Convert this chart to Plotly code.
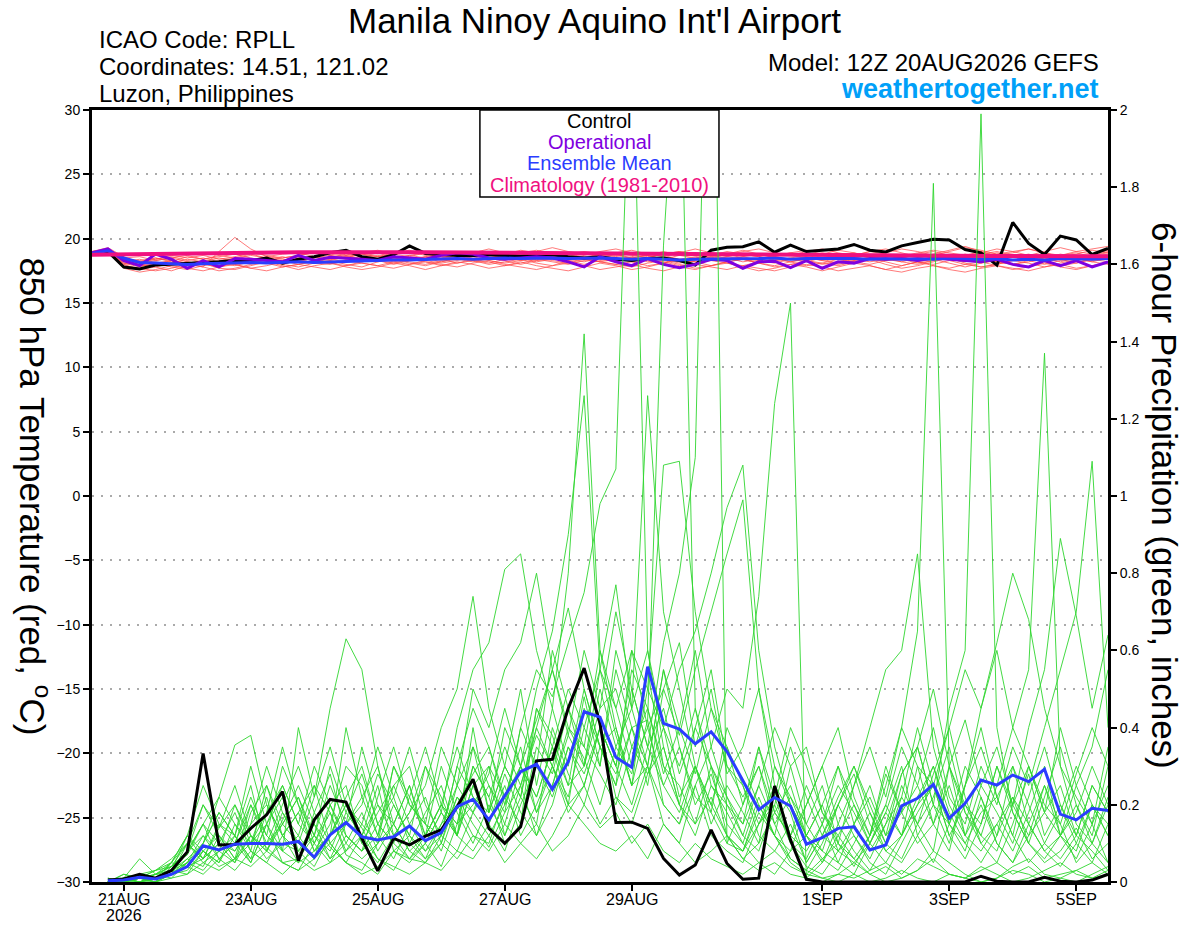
import pandas as pd
import plotly.graph_objects as go

# ---------------- data ----------------
RUN_START = "2026-08-20 12:00"          # first temperature valid time
N_STEPS = 65                             # 6-hourly, 20AUG 12Z .. 5SEP 12Z

TICK_DATES = ["2026-08-21", "2026-08-23", "2026-08-25", "2026-08-27", "2026-08-29",
              "2026-09-01", "2026-09-03", "2026-09-05"]
TICK_LABELS = ["21AUG", "23AUG", "25AUG", "27AUG", "29AUG", "1SEP", "3SEP", "5SEP"]
YEAR_LABEL = "2026"

# 850 hPa temperature (deg C), 65 values from 20AUG 12Z
T_CONTROL = [18.8, 19.0, 17.8, 17.65, 17.95, 18.0, 18.1, 18.1, 18.2, 18.3,
             18.3, 18.5, 18.1, 18.4, 18.6, 18.9, 19.1, 18.6, 18.4, 18.75,
             19.44, 18.85, 18.75, 18.7, 18.7, 18.75, 18.7, 18.65, 18.7, 18.75,
             18.6, 18.5, 18.6, 18.4, 18.3, 18.45, 18.5, 18.3, 17.95, 19.1,
             19.34, 19.37, 19.75, 18.95, 19.5, 19.0, 19.1, 19.2, 19.55, 19.1,
             18.97, 19.44, 19.7, 19.96, 19.9, 19.16, 18.9, 17.94, 21.26, 19.63,
             18.77, 20.2, 19.9, 18.77, 19.24]
T_OPER = [18.9, 19.2, 18.3, 17.9, 18.8, 18.4, 17.7, 18.3, 17.8, 18.45,
          18.4, 18.3, 18.2, 18.7, 18.3, 18.55, 18.5, 18.4, 18.3, 18.6,
          18.5, 18.4, 18.7, 18.9, 18.8, 18.5, 18.4, 18.5, 18.6, 18.5,
          18.2, 17.8, 18.6, 18.2, 17.9, 18.45, 18.0, 17.75, 18.0, 18.4,
          18.3, 17.7, 18.2, 18.25, 17.75, 18.3, 17.7, 18.2, 18.1, 18.45,
          18.4, 18.45, 18.3, 18.5, 18.4, 18.3, 18.2, 18.4, 18.0, 17.8,
          18.3, 17.9, 18.3, 17.8, 18.2]
T_MEAN = [18.85, 19.05, 18.5, 18.15, 18.1, 18.05, 18.0, 18.05, 18.1, 18.1,
          18.15, 18.1, 18.15, 18.2, 18.15, 18.2, 18.25, 18.3, 18.3, 18.35,
          18.35, 18.4, 18.4, 18.45, 18.4, 18.45, 18.5, 18.45, 18.5, 18.5,
          18.45, 18.5, 18.5, 18.45, 18.4, 18.45, 18.4, 18.35, 18.4, 18.4,
          18.45, 18.4, 18.45, 18.5, 18.4, 18.45, 18.45, 18.5, 18.45, 18.4,
          18.45, 18.4, 18.45, 18.4, 18.5, 18.45, 18.4, 18.45, 18.35, 18.4,
          18.35, 18.45, 18.4, 18.4, 18.45]
T_CLIMO = [18.75, 18.77, 18.79, 18.81, 18.83, 18.85, 18.87, 18.88, 18.9, 18.91,
           18.92, 18.93, 18.94, 18.95, 18.95, 18.96, 18.96, 18.96, 18.95, 18.95,
           18.94, 18.94, 18.93, 18.92, 18.91, 18.9, 18.89, 18.88, 18.87, 18.86,
           18.85, 18.84, 18.83, 18.82, 18.81, 18.8, 18.79, 18.78, 18.77, 18.76,
           18.75, 18.75, 18.74, 18.73, 18.73, 18.72, 18.72, 18.71, 18.71, 18.7,
           18.7, 18.69, 18.69, 18.68, 18.68, 18.67, 18.67, 18.66, 18.66, 18.65,
           18.65, 18.65, 18.64, 18.64, 18.64]

T_MEMBERS = [
    [18.9, 19.1, 18.2, 17.9, 18.0, 18.3, 18.1, 17.8, 19.0, 20.1, 19.2, 18.6, 18.4, 18.2, 18.5, 18.7, 18.4, 18.6, 18.9, 18.5, 18.3, 18.6, 18.8, 18.5, 18.4, 18.7, 18.9, 18.6, 18.3, 18.5, 18.8, 18.6, 18.4, 18.2, 18.5, 18.7, 18.4, 18.1, 18.3, 18.6, 18.8, 18.5, 18.3, 18.6, 18.4, 18.2, 18.5, 18.7, 18.9, 18.6, 18.3, 18.5, 18.8, 18.6, 18.4, 18.7, 19.0, 18.6, 18.3, 18.5, 18.8, 18.6, 18.4, 18.7, 19.0],
    [18.8, 19.0, 18.0, 17.6, 17.8, 17.5, 17.9, 18.1, 17.7, 17.6, 17.9, 18.2, 18.0, 17.8, 18.1, 18.3, 18.0, 17.8, 18.2, 18.4, 18.1, 17.9, 18.2, 18.5, 18.3, 18.0, 18.2, 18.4, 18.1, 17.9, 18.3, 18.5, 18.2, 18.0, 17.8, 18.1, 18.3, 18.0, 17.7, 17.9, 18.2, 18.4, 18.1, 17.8, 18.0, 18.3, 18.1, 17.9, 18.2, 18.4, 18.0, 17.7, 17.9, 18.2, 18.5, 18.1, 17.8, 18.0, 18.3, 18.1, 17.8, 18.1, 18.4, 18.2, 18.5],
    [18.9, 19.2, 18.4, 18.3, 18.5, 18.2, 18.6, 18.4, 18.7, 18.5, 18.3, 18.6, 18.8, 18.9, 18.6, 18.4, 18.7, 18.9, 19.1, 18.8, 18.6, 18.9, 19.0, 18.7, 18.9, 19.2, 18.9, 18.7, 19.0, 19.3, 19.0, 18.8, 18.6, 18.9, 19.1, 18.8, 18.6, 18.9, 19.2, 18.9, 18.7, 19.0, 19.2, 18.9, 18.7, 18.5, 18.8, 19.1, 18.9, 18.6, 18.9, 19.2, 19.0, 18.7, 19.0, 19.3, 19.1, 18.8, 19.0, 19.2, 18.9, 18.7, 19.0, 19.2, 19.4],
    [18.7, 19.0, 17.7, 17.4, 17.6, 17.9, 17.7, 17.5, 17.8, 18.0, 17.7, 17.5, 17.8, 18.0, 17.8, 17.6, 17.9, 18.1, 17.9, 17.7, 18.0, 18.2, 18.0, 17.8, 18.1, 18.3, 18.0, 17.8, 17.6, 17.9, 18.1, 17.9, 17.6, 17.8, 18.0, 17.7, 17.5, 17.8, 18.0, 17.8, 17.6, 17.9, 17.7, 17.5, 17.8, 18.0, 17.8, 17.5, 17.7, 17.9, 17.6, 17.4, 17.7, 17.9, 17.6, 17.4, 17.7, 17.9, 17.7, 17.5, 17.8, 18.0, 17.7, 17.9, 18.1],
    [19.0, 19.3, 18.6, 18.1, 18.4, 18.6, 18.3, 18.5, 18.2, 18.4, 18.7, 18.5, 18.2, 18.4, 18.6, 18.9, 18.7, 18.4, 18.6, 18.8, 19.0, 18.7, 18.5, 18.8, 19.0, 18.8, 18.5, 18.7, 18.9, 18.6, 18.4, 18.7, 19.0, 19.2, 18.9, 18.6, 18.8, 19.0, 18.7, 18.5, 18.8, 19.1, 18.8, 18.6, 18.9, 19.1, 18.8, 18.5, 18.7, 19.0, 19.2, 18.9, 18.6, 18.8, 19.1, 19.4, 19.0, 18.7, 18.9, 19.2, 18.9, 18.6, 18.8, 19.1, 18.9],
    [18.8, 19.1, 18.1, 17.8, 18.1, 17.8, 17.6, 17.9, 18.2, 18.0, 17.7, 17.9, 18.2, 18.4, 18.1, 18.0, 18.3, 18.1, 17.9, 18.2, 18.4, 18.2, 17.9, 18.1, 18.4, 18.2, 17.9, 18.1, 18.4, 18.6, 18.3, 18.0, 18.3, 18.5, 18.2, 17.9, 18.1, 18.4, 18.2, 17.9, 18.2, 18.4, 18.1, 17.9, 18.2, 18.5, 18.3, 18.0, 18.3, 18.5, 18.2, 17.9, 18.2, 18.4, 18.1, 17.8, 18.1, 18.4, 18.6, 18.3, 18.0, 18.3, 18.5, 18.2, 18.0],
    [18.9, 19.0, 18.3, 18.0, 17.8, 18.1, 18.4, 18.2, 17.9, 18.2, 18.4, 18.1, 18.3, 18.6, 18.4, 18.1, 18.3, 18.5, 18.3, 18.0, 18.3, 18.5, 18.7, 18.4, 18.2, 18.5, 18.7, 18.5, 18.2, 18.4, 18.6, 18.9, 18.6, 18.3, 18.5, 18.7, 18.4, 18.2, 18.5, 18.7, 18.5, 18.2, 18.4, 18.7, 18.9, 18.6, 18.3, 18.6, 18.8, 18.5, 18.3, 18.6, 18.8, 19.0, 18.7, 18.4, 18.6, 18.9, 18.6, 18.3, 18.5, 18.8, 18.6, 18.4, 18.7],
    [18.8, 19.2, 18.5, 18.6, 18.3, 18.5, 18.7, 18.4, 18.6, 18.8, 18.5, 18.3, 18.5, 18.7, 18.9, 18.7, 18.5, 18.8, 18.6, 18.4, 18.7, 18.9, 18.6, 18.4, 18.6, 18.8, 18.6, 18.9, 19.1, 18.8, 18.6, 18.4, 18.7, 18.9, 18.7, 18.5, 18.8, 19.0, 18.8, 18.5, 18.3, 18.6, 18.8, 18.5, 18.2, 18.4, 18.7, 18.5, 18.2, 18.4, 18.7, 18.4, 18.1, 18.3, 18.6, 18.4, 18.1, 18.3, 18.6, 18.8, 18.5, 18.2, 18.5, 18.7, 18.9],
    [18.7, 18.9, 17.9, 17.7, 17.5, 17.7, 18.0, 17.8, 17.5, 17.7, 18.0, 18.2, 17.9, 17.6, 17.9, 18.1, 17.8, 17.6, 17.8, 18.1, 17.9, 17.6, 17.9, 18.2, 18.0, 17.7, 17.9, 18.2, 17.9, 17.7, 17.5, 17.8, 18.1, 17.9, 17.6, 17.8, 18.1, 17.8, 17.6, 17.9, 18.1, 17.8, 17.5, 17.7, 18.0, 17.8, 17.5, 17.8, 18.1, 17.9, 17.6, 17.9, 18.2, 17.9, 17.7, 18.0, 18.2, 17.9, 17.6, 17.8, 18.1, 17.8, 17.6, 17.9, 18.2],
    [19.0, 19.2, 18.2, 18.4, 18.1, 18.3, 18.0, 18.2, 18.5, 18.3, 18.1, 18.4, 18.6, 18.3, 18.1, 18.3, 18.6, 18.4, 18.2, 18.5, 18.7, 18.5, 18.2, 18.4, 18.7, 18.9, 18.6, 18.3, 18.5, 18.7, 18.4, 18.2, 18.5, 18.7, 18.5, 18.2, 18.4, 18.7, 18.9, 18.6, 18.4, 18.6, 18.3, 18.1, 18.4, 18.6, 18.4, 18.1, 18.3, 18.6, 18.4, 18.2, 18.5, 18.7, 18.4, 18.2, 18.5, 18.2, 18.0, 18.3, 18.6, 18.4, 18.1, 18.4, 18.6],
    [18.8, 19.1, 18.4, 18.0, 18.3, 18.5, 18.2, 18.0, 18.3, 18.5, 18.8, 18.5, 18.3, 18.0, 18.2, 18.4, 18.2, 18.5, 18.7, 18.4, 18.2, 18.0, 18.3, 18.5, 18.3, 18.1, 18.4, 18.6, 18.4, 18.2, 18.0, 18.3, 18.5, 18.8, 18.5, 18.3, 18.1, 18.4, 18.6, 18.9, 18.6, 18.4, 18.1, 18.3, 18.5, 18.3, 18.0, 18.2, 18.5, 18.7, 18.5, 18.2, 18.0, 18.3, 18.5, 18.8, 18.5, 18.2, 18.0, 18.2, 18.5, 18.7, 18.9, 18.6, 18.8],
    [18.9, 19.1, 18.0, 18.2, 18.5, 18.3, 18.1, 18.3, 18.1, 17.9, 18.2, 18.4, 18.2, 18.5, 18.3, 18.5, 18.8, 18.6, 18.3, 18.1, 18.4, 18.6, 18.4, 18.1, 18.3, 18.5, 18.3, 18.0, 18.3, 18.5, 18.7, 18.4, 18.2, 18.4, 18.6, 18.9, 18.7, 18.4, 18.2, 18.4, 18.6, 18.8, 18.6, 18.3, 18.5, 18.7, 18.9, 18.7, 18.4, 18.2, 18.4, 18.6, 18.3, 18.5, 18.7, 18.5, 18.8, 19.0, 18.7, 18.4, 18.2, 18.4, 18.6, 18.3, 18.5],
    [18.8, 19.0, 18.1, 17.9, 18.2, 18.0, 18.2, 18.0, 17.8, 18.1, 18.3, 18.1, 17.8, 18.0, 18.3, 18.1, 17.9, 18.2, 18.4, 18.2, 18.0, 18.3, 18.1, 18.3, 18.6, 18.3, 18.1, 18.3, 18.5, 18.3, 18.1, 18.4, 18.2, 18.0, 18.2, 18.4, 18.2, 17.9, 18.1, 18.3, 18.1, 17.9, 18.2, 18.4, 18.2, 17.9, 18.1, 18.4, 18.2, 18.0, 18.3, 18.5, 18.2, 18.0, 18.3, 18.0, 17.8, 18.0, 18.3, 18.5, 18.2, 17.9, 18.1, 18.4, 18.2],
    [19.0, 19.2, 18.5, 18.2, 18.4, 18.7, 18.5, 18.7, 18.4, 18.6, 18.9, 18.7, 18.5, 18.7, 19.0, 18.8, 18.6, 18.8, 18.6, 18.9, 19.1, 18.8, 18.6, 18.9, 18.7, 18.5, 18.8, 19.1, 18.9, 18.6, 18.8, 19.0, 18.8, 18.6, 18.9, 18.7, 19.0, 18.7, 18.5, 18.7, 19.0, 18.8, 18.6, 18.9, 18.7, 19.0, 19.2, 18.9, 18.7, 19.0, 18.8, 18.6, 18.9, 19.1, 18.9, 18.7, 18.9, 19.2, 19.0, 18.7, 19.0, 19.3, 19.0, 18.8, 19.1],
]

# 6-hour precipitation (inches), 64 values from 20AUG 18Z
P_CONTROL = [0.005, 0.008, 0.02, 0.01, 0.03, 0.078, 0.333, 0.096, 0.097, 0.139,
             0.174, 0.234, 0.055, 0.161, 0.214, 0.207, 0.113, 0.029, 0.113, 0.096,
             0.119, 0.135, 0.195, 0.266, 0.139, 0.10, 0.143, 0.314, 0.318, 0.45,
             0.554, 0.411, 0.154, 0.155, 0.139, 0.061, 0.018, 0.044, 0.135, 0.048,
             0.007, 0.01, 0.249, 0.109, 0.007, 0.0, 0.0, 0.0, 0.0, 0.0,
             0.0, 0.0, 0.0, 0.0, 0.0, 0.015, 0.002, 0.0, 0.0, 0.012,
             0.002, 0.0, 0.005, 0.02]
P_MEAN = [0.003, 0.005, 0.012, 0.008, 0.02, 0.04, 0.094, 0.083, 0.098, 0.10,
          0.10, 0.098, 0.105, 0.064, 0.122, 0.154, 0.117, 0.109, 0.117, 0.145,
          0.107, 0.128, 0.195, 0.214, 0.161, 0.225, 0.286, 0.305, 0.24, 0.312,
          0.441, 0.427, 0.323, 0.297, 0.558, 0.411, 0.396, 0.358, 0.389, 0.338,
          0.264, 0.187, 0.219, 0.197, 0.098, 0.115, 0.139, 0.143, 0.083, 0.096,
          0.197, 0.217, 0.253, 0.165, 0.204, 0.264, 0.251, 0.277, 0.26, 0.292,
          0.176, 0.161, 0.191, 0.185]

P_MEMBERS = [
    [0.00, 0.01, 0.00, 0.01, 0.02, 0.05, 0.08, 0.04, 0.06, 0.12, 0.09, 0.05, 0.03, 0.10, 0.18, 0.07, 0.05, 0.02, 0.08, 0.12, 0.06, 0.10, 0.22, 0.15, 0.09, 0.18, 0.25, 0.12, 0.20, 0.35, 0.28, 0.40, 0.22, 0.18, 0.30, 0.15, 0.10, 0.25, 0.12, 0.08, 0.05, 0.15, 0.22, 0.10, 0.04, 0.02, 0.08, 0.12, 0.06, 0.15, 0.28, 0.35, 0.20, 0.45, 0.60, 1.99, 0.40, 0.18, 0.10, 0.06, 0.12, 0.08, 0.20, 0.15],
    [0.00, 0.00, 0.02, 0.01, 0.03, 0.08, 0.12, 0.06, 0.10, 0.05, 0.15, 0.22, 0.08, 0.04, 0.12, 0.20, 0.14, 0.06, 0.03, 0.10, 0.18, 0.25, 0.12, 0.30, 0.22, 0.10, 0.15, 0.35, 0.28, 0.45, 0.30, 0.55, 0.38, 0.25, 0.42, 0.20, 0.15, 0.30, 0.18, 0.10, 0.08, 0.20, 0.12, 0.05, 0.02, 0.06, 0.10, 0.04, 0.12, 0.25, 0.40, 0.65, 1.81, 0.30, 0.12, 0.08, 0.15, 0.22, 0.10, 0.05, 0.08, 0.14, 0.06, 0.10],
    [0.01, 0.00, 0.01, 0.03, 0.05, 0.10, 0.06, 0.14, 0.20, 0.12, 0.08, 0.16, 0.25, 0.15, 0.09, 0.05, 0.12, 0.20, 0.15, 0.08, 0.05, 0.12, 0.30, 0.45, 0.35, 0.20, 0.40, 0.55, 0.48, 0.62, 0.75, 0.98, 1.07, 2.30, 0.60, 0.35, 0.20, 0.12, 0.25, 0.18, 0.10, 0.05, 0.02, 0.08, 0.12, 0.06, 0.03, 0.10, 0.18, 0.08, 0.05, 0.12, 0.20, 0.15, 0.30, 0.22, 0.10, 0.05, 0.12, 0.18, 0.25, 0.12, 0.08, 0.03],
    [0.00, 0.02, 0.01, 0.00, 0.04, 0.07, 0.15, 0.10, 0.05, 0.18, 0.25, 0.12, 0.08, 0.12, 0.06, 0.15, 0.22, 0.30, 0.12, 0.06, 0.10, 0.04, 0.15, 0.20, 0.28, 0.45, 0.30, 0.22, 0.35, 0.25, 0.48, 0.30, 0.55, 0.40, 0.42, 1.65, 2.30, 0.45, 0.30, 0.20, 0.12, 0.25, 0.15, 0.06, 0.03, 0.10, 0.20, 0.12, 0.05, 0.02, 0.10, 0.18, 0.25, 0.12, 0.06, 0.15, 0.30, 0.20, 0.12, 0.25, 0.15, 0.05, 0.10, 0.22],
    [0.00, 0.01, 0.00, 0.02, 0.03, 0.12, 0.08, 0.05, 0.15, 0.10, 0.22, 0.08, 0.05, 0.18, 0.28, 0.12, 0.08, 0.15, 0.22, 0.35, 0.20, 0.12, 0.08, 0.18, 0.25, 0.15, 0.30, 0.42, 0.55, 0.38, 0.60, 0.45, 0.70, 0.50, 0.35, 0.62, 0.80, 1.10, 2.80, 0.10, 0.20, 0.35, 0.18, 0.12, 0.08, 0.15, 0.05, 0.02, 0.10, 0.20, 0.12, 0.30, 0.15, 0.08, 0.25, 0.40, 0.22, 0.12, 0.05, 0.10, 0.18, 0.30, 0.20, 0.12],
    [0.00, 0.00, 0.01, 0.01, 0.02, 0.06, 0.10, 0.18, 0.12, 0.30, 0.15, 0.08, 0.12, 0.06, 0.20, 0.25, 0.10, 0.05, 0.12, 0.18, 0.30, 0.22, 0.12, 0.40, 0.18, 0.30, 0.50, 0.25, 0.45, 0.80, 1.42, 0.60, 0.40, 0.25, 0.55, 0.30, 0.20, 0.15, 0.30, 0.12, 0.06, 0.10, 0.18, 0.25, 0.12, 0.05, 0.15, 0.08, 0.03, 0.10, 0.22, 0.15, 0.08, 0.30, 0.18, 0.10, 0.05, 0.15, 0.28, 0.12, 0.20, 0.10, 0.05, 0.15],
    [0.00, 0.01, 0.02, 0.01, 0.05, 0.04, 0.10, 0.22, 0.15, 0.08, 0.05, 0.12, 0.18, 0.25, 0.10, 0.05, 0.03, 0.10, 0.20, 0.12, 0.08, 0.15, 0.25, 0.18, 0.30, 0.22, 0.15, 0.45, 0.35, 0.50, 0.40, 0.30, 0.60, 0.45, 1.26, 0.70, 0.50, 0.30, 0.20, 0.35, 0.25, 0.12, 0.08, 0.15, 0.05, 0.12, 0.22, 0.30, 0.20, 0.10, 0.06, 0.15, 0.28, 0.40, 0.22, 0.10, 0.15, 0.08, 0.18, 0.30, 0.12, 0.25, 0.15, 0.05],
    [0.00, 0.00, 0.00, 0.02, 0.01, 0.05, 0.12, 0.08, 0.20, 0.10, 0.15, 0.05, 0.06, 0.12, 0.30, 0.18, 0.12, 0.25, 0.08, 0.05, 0.10, 0.18, 0.12, 0.25, 0.15, 0.08, 0.20, 0.30, 0.22, 0.35, 0.25, 0.40, 0.30, 0.55, 0.45, 0.28, 0.40, 0.60, 0.35, 0.50, 0.45, 0.74, 1.24, 1.50, 0.01, 0.05, 0.12, 0.20, 0.10, 0.18, 0.30, 0.12, 0.05, 0.15, 0.08, 0.22, 0.12, 0.30, 0.20, 0.10, 0.06, 0.12, 0.25, 0.18],
    [0.01, 0.00, 0.01, 0.00, 0.02, 0.04, 0.06, 0.10, 0.08, 0.15, 0.20, 0.12, 0.05, 0.08, 0.12, 0.22, 0.30, 0.15, 0.10, 0.06, 0.12, 0.20, 0.35, 0.22, 0.15, 0.28, 0.18, 0.12, 0.25, 0.40, 0.32, 0.20, 0.35, 0.28, 0.50, 0.40, 0.22, 0.30, 0.15, 0.25, 0.18, 0.10, 0.30, 0.20, 0.12, 0.08, 0.05, 0.15, 0.22, 0.12, 0.28, 0.35, 0.20, 0.10, 0.25, 0.45, 0.60, 0.40, 0.55, 1.37, 0.30, 0.15, 0.10, 0.20],
    [0.00, 0.01, 0.00, 0.01, 0.03, 0.02, 0.08, 0.12, 0.06, 0.20, 0.10, 0.15, 0.22, 0.10, 0.05, 0.12, 0.08, 0.12, 0.30, 0.20, 0.15, 0.08, 0.20, 0.12, 0.10, 0.22, 0.35, 0.18, 0.30, 0.20, 0.45, 0.35, 0.25, 0.40, 0.30, 0.55, 0.35, 0.20, 0.28, 0.15, 0.10, 0.22, 0.12, 0.30, 0.15, 0.25, 0.10, 0.06, 0.12, 0.30, 0.18, 0.25, 0.40, 0.22, 0.15, 0.30, 0.20, 0.35, 0.25, 0.40, 0.55, 0.70, 1.09, 0.40],
    [0.00, 0.00, 0.02, 0.03, 0.06, 0.10, 0.05, 0.08, 0.12, 0.06, 0.18, 0.25, 0.15, 0.30, 0.20, 0.10, 0.06, 0.10, 0.15, 0.25, 0.12, 0.30, 0.18, 0.10, 0.20, 0.12, 0.25, 0.38, 0.30, 0.22, 0.40, 0.55, 0.45, 0.60, 0.50, 1.08, 1.09, 0.70, 0.45, 0.30, 0.25, 0.15, 0.20, 0.10, 0.06, 0.15, 0.25, 0.18, 0.10, 0.05, 0.12, 0.20, 0.30, 0.18, 0.10, 0.05, 0.12, 0.22, 0.15, 0.08, 0.04, 0.10, 0.20, 0.12],
    [0.00, 0.01, 0.01, 0.02, 0.04, 0.08, 0.15, 0.06, 0.10, 0.22, 0.12, 0.30, 0.20, 0.08, 0.15, 0.30, 0.25, 0.12, 0.06, 0.15, 0.22, 0.10, 0.25, 0.35, 0.18, 0.30, 0.22, 0.45, 0.38, 0.25, 0.30, 0.50, 0.35, 0.45, 0.60, 0.40, 0.55, 0.65, 0.80, 0.97, 1.08, 0.60, 0.35, 0.20, 0.12, 0.20, 0.30, 0.15, 0.08, 0.15, 0.22, 0.40, 0.25, 0.12, 0.20, 0.15, 0.30, 0.18, 0.10, 0.22, 0.35, 0.20, 0.12, 0.30],
    [0.00, 0.00, 0.01, 0.01, 0.02, 0.10, 0.20, 0.14, 0.25, 0.12, 0.08, 0.18, 0.10, 0.22, 0.35, 0.20, 0.15, 0.28, 0.20, 0.12, 0.30, 0.18, 0.40, 0.55, 0.62, 0.81, 0.85, 0.60, 0.45, 0.30, 0.50, 0.35, 0.28, 0.40, 0.25, 0.50, 0.38, 0.55, 0.70, 0.85, 0.99, 0.50, 0.30, 0.22, 0.15, 0.08, 0.20, 0.30, 0.18, 0.10, 0.25, 0.15, 0.22, 0.35, 0.18, 0.12, 0.08, 0.20, 0.30, 0.18, 0.12, 0.06, 0.15, 0.25],
    [0.00, 0.02, 0.01, 0.00, 0.05, 0.12, 0.06, 0.10, 0.18, 0.08, 0.25, 0.15, 0.10, 0.06, 0.12, 0.40, 0.22, 0.12, 0.25, 0.30, 0.15, 0.35, 0.25, 0.50, 0.40, 0.55, 0.62, 0.80, 0.55, 0.40, 0.35, 0.60, 0.45, 0.30, 0.40, 0.25, 0.35, 0.22, 0.18, 0.40, 0.30, 0.20, 0.12, 0.08, 0.20, 0.30, 0.15, 0.25, 0.40, 0.55, 0.60, 0.85, 0.35, 0.20, 0.12, 0.25, 0.18, 0.10, 0.22, 0.35, 0.20, 0.12, 0.25, 0.18],
    [0.00, 0.00, 0.00, 0.01, 0.02, 0.03, 0.08, 0.05, 0.12, 0.06, 0.10, 0.20, 0.30, 0.18, 0.10, 0.15, 0.20, 0.35, 0.22, 0.10, 0.06, 0.15, 0.20, 0.28, 0.35, 0.22, 0.30, 0.18, 0.25, 0.38, 0.30, 0.45, 0.50, 0.35, 0.28, 0.40, 0.30, 0.45, 0.25, 0.20, 0.15, 0.35, 0.22, 0.40, 0.30, 0.18, 0.10, 0.25, 0.35, 0.22, 0.40, 0.30, 0.25, 0.40, 0.55, 0.45, 0.62, 0.80, 0.68, 0.45, 0.30, 0.22, 0.15, 0.35],
    [0.00, 0.01, 0.02, 0.01, 0.03, 0.06, 0.04, 0.12, 0.08, 0.15, 0.30, 0.18, 0.12, 0.25, 0.18, 0.08, 0.15, 0.10, 0.30, 0.22, 0.12, 0.20, 0.15, 0.35, 0.25, 0.18, 0.40, 0.30, 0.60, 0.45, 0.55, 0.40, 0.30, 0.50, 0.35, 0.45, 0.28, 0.40, 0.55, 0.30, 0.22, 0.30, 0.18, 0.12, 0.25, 0.15, 0.30, 0.20, 0.12, 0.28, 0.18, 0.35, 0.50, 0.30, 0.42, 0.25, 0.35, 0.20, 0.40, 0.55, 0.89, 0.69, 0.45, 0.64],
    [0.00, 0.00, 0.01, 0.02, 0.04, 0.08, 0.20, 0.12, 0.06, 0.10, 0.18, 0.35, 0.20, 0.12, 0.25, 0.15, 0.35, 0.20, 0.12, 0.18, 0.25, 0.40, 0.50, 0.74, 0.45, 0.30, 0.22, 0.40, 0.55, 0.71, 0.50, 0.35, 0.40, 0.25, 0.30, 0.20, 0.15, 0.25, 0.35, 0.22, 0.12, 0.08, 0.20, 0.35, 0.22, 0.12, 0.08, 0.05, 0.10, 0.18, 0.12, 0.22, 0.30, 0.15, 0.25, 0.35, 0.22, 0.12, 0.30, 0.20, 0.15, 0.28, 0.40, 0.30],
    [0.00, 0.01, 0.06, 0.02, 0.05, 0.12, 0.25, 0.15, 0.10, 0.20, 0.12, 0.08, 0.40, 0.22, 0.45, 0.63, 0.55, 0.30, 0.15, 0.08, 0.12, 0.20, 0.15, 0.30, 0.22, 0.35, 0.25, 0.40, 0.30, 0.45, 0.35, 0.28, 0.20, 0.35, 0.45, 0.30, 0.25, 0.15, 0.22, 0.12, 0.08, 0.15, 0.25, 0.18, 0.05, 0.12, 0.20, 0.28, 0.15, 0.08, 0.12, 0.20, 0.25, 0.15, 0.10, 0.18, 0.22, 0.30, 0.15, 0.08, 0.12, 0.20, 0.10, 0.05],
    [0.00, 0.00, 0.01, 0.01, 0.02, 0.08, 0.15, 0.22, 0.355, 0.38, 0.20, 0.12, 0.18, 0.08, 0.12, 0.20, 0.10, 0.18, 0.25, 0.15, 0.08, 0.12, 0.22, 0.18, 0.12, 0.20, 0.30, 0.22, 0.35, 0.20, 0.25, 0.40, 0.30, 0.20, 0.35, 0.25, 0.18, 0.30, 0.20, 0.12, 0.08, 0.18, 0.12, 0.06, 0.03, 0.01, 0.02, 0.05, 0.02, 0.00, 0.01, 0.03, 0.06, 0.02, 0.01, 0.04, 0.02, 0.00, 0.01, 0.03, 0.05, 0.02, 0.01, 0.03],
    [0.00, 0.00, 0.00, 0.00, 0.01, 0.02, 0.05, 0.03, 0.06, 0.04, 0.08, 0.05, 0.03, 0.06, 0.10, 0.05, 0.02, 0.04, 0.08, 0.06, 0.05, 0.10, 0.06, 0.12, 0.08, 0.15, 0.10, 0.06, 0.12, 0.20, 0.15, 0.10, 0.08, 0.12, 0.06, 0.15, 0.10, 0.05, 0.08, 0.12, 0.06, 0.03, 0.05, 0.02, 0.01, 0.00, 0.02, 0.01, 0.03, 0.05, 0.02, 0.06, 0.04, 0.02, 0.01, 0.03, 0.05, 0.02, 0.04, 0.01, 0.02, 0.03, 0.01, 0.02],
    [0.00, 0.01, 0.00, 0.00, 0.02, 0.04, 0.02, 0.06, 0.03, 0.08, 0.05, 0.02, 0.06, 0.03, 0.05, 0.08, 0.12, 0.06, 0.04, 0.02, 0.05, 0.03, 0.08, 0.06, 0.12, 0.05, 0.10, 0.15, 0.08, 0.12, 0.20, 0.14, 0.18, 0.10, 0.15, 0.08, 0.05, 0.10, 0.06, 0.04, 0.02, 0.05, 0.08, 0.04, 0.02, 0.01, 0.00, 0.02, 0.00, 0.01, 0.03, 0.01, 0.00, 0.02, 0.01, 0.00, 0.01, 0.03, 0.02, 0.00, 0.01, 0.00, 0.02, 0.04],
    [0.00, 0.01, 0.01, 0.03, 0.04, 0.10, 0.06, 0.15, 0.12, 0.05, 0.15, 0.25, 0.15, 0.10, 0.20, 0.12, 0.08, 0.22, 0.35, 0.20, 0.15, 0.12, 0.30, 0.22, 0.18, 0.40, 0.30, 0.50, 0.65, 0.90, 1.26, 0.55, 0.77, 0.45, 0.30, 0.55, 0.40, 0.28, 0.45, 0.35, 0.20, 0.30, 0.15, 0.22, 0.12, 0.20, 0.08, 0.15, 0.25, 0.12, 0.18, 0.10, 0.15, 0.25, 0.12, 0.20, 0.10, 0.05, 0.15, 0.25, 0.12, 0.18, 0.30, 0.20],
    [0.00, 0.00, 0.02, 0.01, 0.03, 0.05, 0.10, 0.18, 0.12, 0.25, 0.08, 0.15, 0.22, 0.12, 0.08, 0.18, 0.28, 0.15, 0.10, 0.22, 0.35, 0.20, 0.12, 0.25, 0.30, 0.12, 0.22, 0.15, 0.40, 0.28, 0.20, 0.35, 0.25, 0.60, 0.40, 0.50, 0.62, 0.35, 0.50, 0.28, 0.35, 0.50, 0.25, 0.12, 0.20, 0.30, 0.40, 0.22, 0.12, 0.20, 0.35, 0.25, 0.15, 0.30, 0.20, 0.12, 0.25, 0.40, 0.30, 0.18, 0.40, 0.25, 0.35, 0.55],
    [0.00, 0.01, 0.01, 0.00, 0.02, 0.05, 0.03, 0.08, 0.05, 0.12, 0.06, 0.10, 0.08, 0.15, 0.06, 0.10, 0.18, 0.08, 0.15, 0.25, 0.10, 0.18, 0.12, 0.08, 0.15, 0.25, 0.12, 0.20, 0.30, 0.18, 0.25, 0.15, 0.22, 0.15, 0.28, 0.35, 0.20, 0.40, 0.30, 0.22, 0.15, 0.25, 0.40, 0.30, 0.35, 0.18, 0.12, 0.06, 0.02, 0.04, 0.01, 0.03, 0.08, 0.05, 0.02, 0.00, 0.01, 0.04, 0.06, 0.02, 0.01, 0.03, 0.05, 0.02],
]

# ---------------- checks ----------------
for s in [T_CONTROL, T_OPER, T_MEAN, T_CLIMO] + T_MEMBERS:
    assert len(s) == N_STEPS, len(s)
for s in [P_CONTROL, P_MEAN] + P_MEMBERS:
    assert len(s) == N_STEPS - 1, len(s)

times = pd.date_range(RUN_START, periods=N_STEPS, freq="6h")
t_times = list(times)
p_times = list(times[1:])

FONT = "Liberation Sans, Arial, Helvetica, sans-serif"
GREEN = "#2fd62f"
RED = "rgba(255,70,70,0.8)"
PURPLE = "#7f00e0"
BLUE = "#2a3cff"
PINK = "#f0107f"

fig = go.Figure()

for m in P_MEMBERS:
    fig.add_trace(go.Scatter(x=p_times, y=m, yaxis="y2", mode="lines",
                             line=dict(color=GREEN, width=0.9), hoverinfo="skip"))
fig.add_trace(go.Scatter(x=p_times, y=P_CONTROL, yaxis="y2", mode="lines",
                         line=dict(color="black", width=3)))
fig.add_trace(go.Scatter(x=p_times, y=P_MEAN, yaxis="y2", mode="lines",
                         line=dict(color=BLUE, width=3)))

for m in T_MEMBERS:
    fig.add_trace(go.Scatter(x=t_times, y=m, yaxis="y", mode="lines",
                             line=dict(color=RED, width=0.9), hoverinfo="skip"))
fig.add_trace(go.Scatter(x=t_times, y=T_CONTROL, yaxis="y", mode="lines",
                         line=dict(color="black", width=3)))
fig.add_trace(go.Scatter(x=t_times, y=T_OPER, yaxis="y", mode="lines",
                         line=dict(color=PURPLE, width=3)))
fig.add_trace(go.Scatter(x=t_times, y=T_MEAN, yaxis="y", mode="lines",
                         line=dict(color=BLUE, width=3)))
fig.add_trace(go.Scatter(x=t_times, y=T_CLIMO, yaxis="y", mode="lines",
                         line=dict(color=PINK, width=4)))

tick_font = dict(family=FONT, size=14, color="black")

fig.update_layout(
    width=1200, height=927,
    margin=dict(l=92, r=92, t=110, b=45, autoexpand=False),
    paper_bgcolor="white", plot_bgcolor="white",
    showlegend=False,
    font=dict(family=FONT, color="black"),
    xaxis=dict(
        type="date", range=[times[0], times[-1]],
        tickvals=TICK_DATES, showticklabels=False,
        ticks="outside", ticklen=6, tickwidth=2, tickcolor="black",
        showline=True, linewidth=3, linecolor="black", mirror=True,
        showgrid=False, zeroline=False,
    ),
    yaxis=dict(
        range=[-30, 30], dtick=5, tick0=-30,
        ticks="outside", ticklen=6, tickwidth=2, tickcolor="black",
        showline=True, linewidth=3, linecolor="black",
        showgrid=True, gridcolor="#aaaaaa", griddash="2px,7px", gridwidth=1.5,
        zeroline=False, tickfont=tick_font,
    ),
    yaxis2=dict(
        range=[0, 2], dtick=0.2, tick0=0, overlaying="y", side="right",
        ticks="outside", ticklen=6, tickwidth=2, tickcolor="black",
        showline=True, linewidth=3, linecolor="black",
        showgrid=False, zeroline=False, tickfont=tick_font,
    ),
)

# date labels under the x ticks (placed on the x axis by date)
xlab_font = dict(family=FONT, size=16, color="black")
for d, lab in zip(TICK_DATES, TICK_LABELS):
    fig.add_annotation(text=lab, x=d, xref="x", yref="paper", y=-0.0225,
                       xanchor="center", yanchor="middle", showarrow=False, font=xlab_font)
fig.add_annotation(text=YEAR_LABEL, x=TICK_DATES[0], xref="x", yref="paper", y=-0.0430,
                   xanchor="center", yanchor="middle", showarrow=False, font=xlab_font)

# legend box (drawn above the traces)
fig.add_shape(type="rect", xref="paper", yref="paper",
              x0=0.3818, x1=0.6171, y0=0.8873, y1=1.0,
              fillcolor="white", line=dict(color="black", width=1.5), layer="above")

legend_items = [("Control", "black", 0.9857), ("Operational", PURPLE, 0.9585),
                ("Ensemble Mean", BLUE, 0.9313), ("Climatology (1981-2010)", PINK, 0.9028)]
for txt, col, yy in legend_items:
    fig.add_annotation(text=txt, xref="paper", yref="paper", x=0.4994, y=yy,
                       xanchor="center", yanchor="middle", showarrow=False,
                       font=dict(family=FONT, size=20, color=col))

# titles and header texts
fig.add_annotation(text="Manila Ninoy Aquino Int'l Airport", xref="paper", yref="paper",
                   x=0.4949, y=1.1165, xanchor="center", yanchor="middle", showarrow=False,
                   font=dict(family=FONT, size=35, color="black"))
for txt, yy in [("ICAO Code: RPLL", 1.0907), ("Coordinates: 14.51, 121.02", 1.0557),
                ("Luzon, Philippines", 1.0220)]:
    fig.add_annotation(text=txt, xref="paper", yref="paper", x=0.0046, y=yy,
                       xanchor="left", yanchor="middle", showarrow=False,
                       font=dict(family=FONT, size=24, color="black"))
fig.add_annotation(text="Model: 12Z 20AUG2026 GEFS", xref="paper", yref="paper",
                   x=0.9932, y=1.0609, xanchor="right", yanchor="middle", showarrow=False,
                   font=dict(family=FONT, size=24, color="black"))
fig.add_annotation(text="<b>weathertogether.net</b>", xref="paper", yref="paper",
                   x=0.9932, y=1.0272, xanchor="right", yanchor="middle", showarrow=False,
                   font=dict(family=FONT, size=27, color="#00a0f8"))

# axis titles (rotated to read top-to-bottom like the original)
fig.add_annotation(text="850 hPa Temperature (red, <sup>o</sup>C)", xref="paper", yref="paper",
                   x=-0.0565, y=0.5, xanchor="center", yanchor="middle", showarrow=False,
                   textangle=90, font=dict(family=FONT, size=35, color="black"))
fig.add_annotation(text="6-hour Precipitation (green, inches)", xref="paper", yref="paper",
                   x=1.0560, y=0.5, xanchor="center", yanchor="middle", showarrow=False,
                   textangle=90, font=dict(family=FONT, size=35, color="black"))

fig.write_html("out.html", config={"displayModeBar": False},
               post_script="document.body.style.margin='0px';document.body.style.overflow='hidden';")
